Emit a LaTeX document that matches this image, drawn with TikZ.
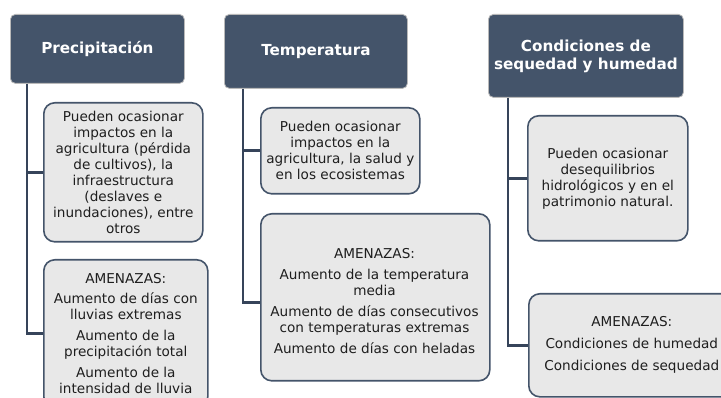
\documentclass[tikz,border=0pt]{standalone}
\usepackage{fontspec}
\setmainfont{DejaVu Sans}
\usetikzlibrary{calc}
\definecolor{hdr}{HTML}{44546A}
\definecolor{boxfill}{HTML}{E8E8E8}
\definecolor{boxline}{HTML}{44546A}
\definecolor{conn}{HTML}{36445A}
\definecolor{txt}{HTML}{1E1E1E}
\begin{document}
\begin{tikzpicture}[x=1pt,y=-1pt,
  hdrbox/.style={draw=gray!55, line width=0.8pt, fill=hdr, rounded corners=5pt,
    text=white, font=\bfseries\fontsize{15.2}{18}\selectfont, align=center,
    inner sep=0pt, anchor=north west},
  infobox/.style={draw=boxline, line width=1.6pt, fill=boxfill, rounded corners=11pt,
    text=txt, font=\fontsize{13.6}{16}\selectfont, align=center,
    inner sep=0pt, anchor=north west},
  infotext/.style={text=txt, font=\fontsize{13.6}{16}\selectfont, align=center, inner sep=0pt},
  conline/.style={draw=conn, line width=2.6pt}]
\useasboundingbox (0,0) rectangle (721,398);
\fill[white] (0,0) rectangle (721,398);
\clip (0,0) rectangle (721,398);

% headers
\node[hdrbox, minimum width=174pt, minimum height=69pt] (h1) at (10,14) {Precipitación};
\node[hdrbox, minimum width=183pt, minimum height=74pt] (h2) at (224,14) {Temperatura};
\node[hdrbox, minimum width=195pt, minimum height=83pt] (h3) at (488,14) {Condiciones de\\sequedad y humedad};

% column 1
\node[infobox, minimum width=159pt, minimum height=139pt] (b1a) at (43,102)
  {Pueden ocasionar\\impactos en la\\agricultura (pérdida\\de cultivos), la\\infraestructura\\(deslaves e\\inundaciones), entre\\otros};
\node[infobox, minimum width=164pt, minimum height=148pt] (b1b) at (43,259)
  {AMENAZAS:\\[4pt]Aumento de días con\\lluvias extremas\\[5pt]Aumento de la\\precipitación total\\[5pt]Aumento de la\\intensidad de lluvia};

% column 2
\node[infobox, minimum width=159pt, minimum height=86pt] (b2a) at (260,107)
  {Pueden ocasionar\\impactos en la\\agricultura, la salud y\\en los ecosistemas};
\node[infobox, minimum width=229pt, minimum height=167pt] (b2b) at (260,213) {};
\node[infotext] (t2b) at (374.5,301.5)
  {AMENAZAS:\\[5pt]Aumento de la temperatura\\media\\[5pt]Aumento de días consecutivos\\con temperaturas extremas\\[5pt]Aumento de días con heladas};

% column 3
\node[infobox, minimum width=160pt, minimum height=125pt] (b3a) at (527,115)
  {Pueden ocasionar\\desequilibrios\\hidrológicos y en el\\patrimonio natural.};
\node[infobox, minimum width=206pt, minimum height=103pt] (b3b) at (528,293)
  {AMENAZAS:\\[6pt]Condiciones de humedad\\[6pt]Condiciones de sequedad};

% connectors
\draw[conline] ($(h1.south west)+(17,0)$) |- (b1a.west);
\draw[conline] ($(h1.south west)+(17,0)$) |- (b1b.west);
\draw[conline] ($(h2.south west)+(19,0)$) |- (b2a.west);
\draw[conline] ($(h2.south west)+(19,0)$) |- ($(b2b.west)+(0,5.5)$);
\draw[conline] ($(h3.south west)+(20,0)$) |- (b3a.west);
\draw[conline] ($(h3.south west)+(20,0)$) |- (b3b.west);
\end{tikzpicture}
\end{document}
